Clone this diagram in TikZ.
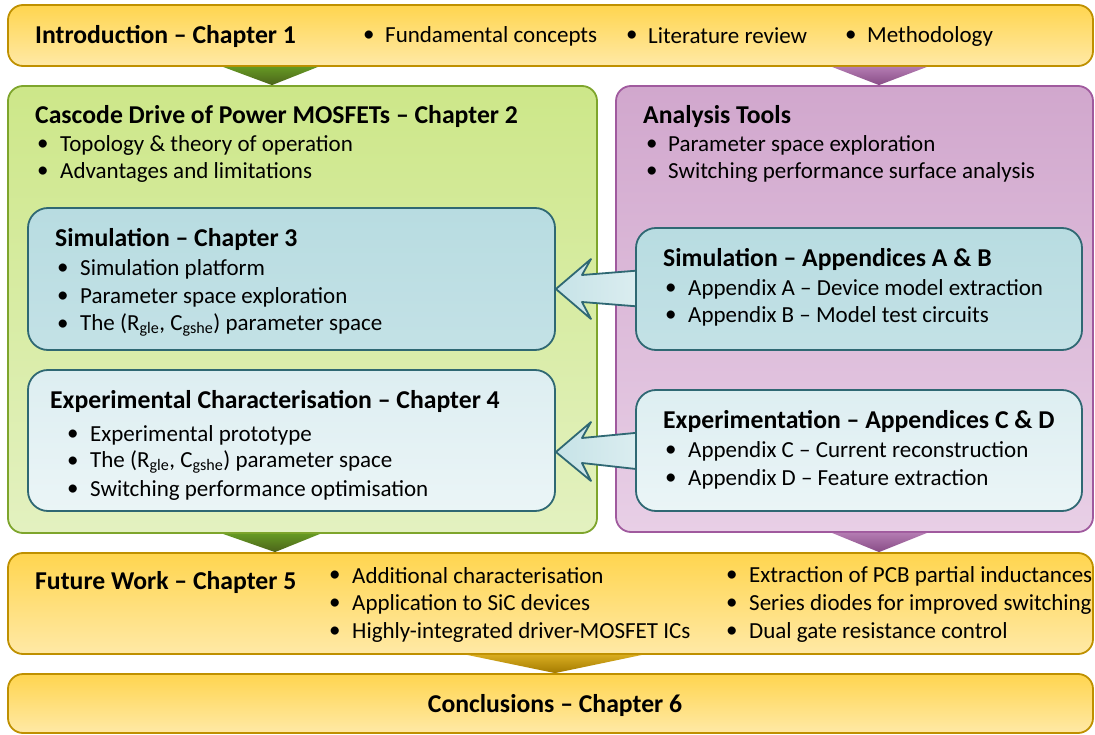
\documentclass[tikz,border=0pt]{standalone}
\usepackage{fontspec}
\setmainfont{Carlito}
\usetikzlibrary{calc}

\definecolor{ytop}{HTML}{FFD54F}
\definecolor{ybot}{HTML}{FFE9A6}
\definecolor{yline}{HTML}{BF9000}
\definecolor{gtop}{HTML}{CDE789}
\definecolor{gbot}{HTML}{E3F1C0}
\definecolor{gline}{HTML}{7EA52C}
\definecolor{ptop}{HTML}{D1A7CD}
\definecolor{pbot}{HTML}{E8CFE6}
\definecolor{pline}{HTML}{A05A9E}
\definecolor{tline}{HTML}{2F6873}
\definecolor{tdark}{HTML}{B8DCE1}
\definecolor{tlight}{HTML}{DDEEF1}

\tikzset{
  box/.style={rounded corners=15pt, line width=1.8pt, inner sep=0pt},
  ybox/.style={box, draw=yline, top color=ytop, bottom color=ybot},
  gbox/.style={box, draw=gline, top color=gtop, bottom color=gbot},
  pbox/.style={box, draw=pline, top color=ptop, bottom color=pbot},
  tbox/.style={box, rounded corners=20pt, draw=tline, top color=tdark, bottom color=tdark!70!tlight},
  lbox/.style={box, rounded corners=20pt, draw=tline, top color=tlight, bottom color=tlight!60!white},
  txt/.style={anchor=west, inner sep=0pt, font=\fontsize{23}{27}\selectfont},
  head/.style={txt, font=\fontsize{25.7}{30}\selectfont\bfseries},
  bul/.style={txt},
  fatarrow/.style={draw=tline, line width=1.8pt, line join=round, left color=tdark!80!white, right color=tlight},
  gtri/.style={top color=green!40!black!20!gline, bottom color=gline!60!black},
  ptri/.style={top color=pline!80!white, bottom color=pline!85!black},
  otri/.style={top color=yline!60!ytop, bottom color=yline!85!black},
}
\newcommand{\bu}{\textbullet}
\newcommand{\sbs}[1]{\textsubscript{#1}}

\begin{document}
\begin{tikzpicture}[x=1pt,y=-1pt]
\useasboundingbox (0,0) rectangle (1095,735);

% outer boxes
\node[ybox, minimum width=1085pt, minimum height=61pt] (intro) at (550.5,35.5) {};
\node[gbox, minimum width=589pt, minimum height=447pt] (cascode) at (302.5,309.5) {};
\node[pbox, minimum width=477pt, minimum height=446pt] (tools) at (854.5,309) {};
\node[ybox, minimum width=1085pt, minimum height=101pt] (future) at (550.5,603.5) {};
\node[ybox, minimum width=1085pt, minimum height=59pt] (concl) at (550.5,703.5) {};

% flow triangles between the stages
\shade[gtri] (223,0 |- intro.south) -- (318,0 |- intro.south) -- (272,0 |- cascode.north) -- cycle;
\shade[ptri] (832,0 |- intro.south) -- (927,0 |- intro.south) -- (879,0 |- tools.north) -- cycle;
\shade[gtri] (223,0 |- cascode.south) -- (320,0 |- cascode.south) -- (275,0 |- future.north) -- cycle;
\shade[ptri] (832,0 |- tools.south) -- (927,0 |- tools.south) -- (879,0 |- future.north) -- cycle;
\shade[otri] (467,0 |- future.south) -- (642,0 |- future.south) -- (555,0 |- concl.north) -- cycle;

% inner boxes
\node[tbox, minimum width=527pt, minimum height=142pt] (sim3) at (291.5,279) {};
\node[lbox, minimum width=527pt, minimum height=141pt] (exp4) at (291.5,440.5) {};

% fat arrows from the appendices to the chapters
\path[fatarrow] (sim3.east |- 0,289) -- (591,259) -- (582,275) -- (645,270)
  -- (645,307) -- (582,302) -- (591,319) -- cycle;
\path[fatarrow] (exp4.east |- 0,452) -- (591,422) -- (582,438) -- (645,432)
  -- (645,470) -- (582,463) -- (591,481) -- cycle;

\node[tbox, minimum width=446pt, minimum height=122pt] (simA) at (859,289) {};
\node[lbox, minimum width=446pt, minimum height=121pt] (expC) at (859,450.5) {};

% introduction
\node[head] (h1) at (35,36) {Introduction – Chapter 1};
\node[bul] (b1a) at (363,36) {\bu};
\node[txt] (t1a) at (385,36) {Fundamental concepts};
\node[bul] (b1b) at (626,36) {\bu};
\node[txt] (t1b) at (648,36) {Literature review};
\node[bul] (b1c) at (845,36) {\bu};
\node[txt] (t1c) at (867,36) {Methodology};

% chapter 2
\node[head] (h2) at (35,117) {Cascode Drive of Power MOSFETs – Chapter 2};
\node[bul] (b2a) at (37,145) {\bu};
\node[txt] (t2a) at (60,145) {Topology \& theory of operation};
\node[bul] (b2b) at (37,172) {\bu};
\node[txt] (t2b) at (60,172) {Advantages and limitations};

% analysis tools
\node[head] (ht) at (643,117) {Analysis Tools};
\node[bul] (bta) at (646,145) {\bu};
\node[txt] (tta) at (668,145) {Parameter space exploration};
\node[bul] (btb) at (646,172) {\bu};
\node[txt] (ttb) at (668,172) {Switching performance surface analysis};

% chapter 3
\node[head] (h3) at (55,239) {Simulation – Chapter 3};
\node[bul] (b3a) at (57,269) {\bu};
\node[txt] (t3a) at (80,269) {Simulation platform};
\node[bul] (b3b) at (57,297) {\bu};
\node[txt] (t3b) at (80,297) {Parameter space exploration};
\node[bul] (b3c) at (57,325) {\bu};
\node[txt] (t3c) at (80,325) {The (R\sbs{gle}, C\sbs{gshe}) parameter space};

% chapter 4
\node[head] (h4) at (50,401) {Experimental Characterisation – Chapter 4};
\node[bul] (b4a) at (67,435) {\bu};
\node[txt] (t4a) at (90,435) {Experimental prototype};
\node[bul] (b4b) at (67,462) {\bu};
\node[txt] (t4b) at (90,462) {The (R\sbs{gle}, C\sbs{gshe}) parameter space};
\node[bul] (b4c) at (67,490) {\bu};
\node[txt] (t4c) at (90,490) {Switching performance optimisation};

% appendices A & B
\node[head] (hA) at (663,259) {Simulation – Appendices A \& B};
\node[bul] (bAa) at (665,289) {\bu};
\node[txt] (tAa) at (688,289) {Appendix A – Device model extraction};
\node[bul] (bAb) at (665,316) {\bu};
\node[txt] (tAb) at (688,316) {Appendix B – Model test circuits};

% appendices C & D
\node[head] (hC) at (663,421) {Experimentation – Appendices C \& D};
\node[bul] (bCa) at (665,451) {\bu};
\node[txt] (tCa) at (688,451) {Appendix C – Current reconstruction};
\node[bul] (bCb) at (665,479) {\bu};
\node[txt] (tCb) at (688,479) {Appendix D – Feature extraction};

% chapter 5
\node[head] (h5) at (35,583) {Future Work – Chapter 5};
\node[bul] (b5a) at (329,576) {\bu};
\node[txt] (t5a) at (352,576) {Additional characterisation};
\node[bul] (b5b) at (329,604) {\bu};
\node[txt] (t5b) at (352,604) {Application to SiC devices};
\node[bul] (b5c) at (329,632) {\bu};
\node[txt] (t5c) at (352,632) {Highly-integrated driver-MOSFET ICs};
\node[bul] (b5d) at (726,576) {\bu};
\node[txt] (t5d) at (749,576) {Extraction of PCB partial inductances};
\node[bul] (b5e) at (726,604) {\bu};
\node[txt] (t5e) at (749,604) {Series diodes for improved switching};
\node[bul] (b5f) at (726,632) {\bu};
\node[txt] (t5f) at (749,632) {Dual gate resistance control};

% chapter 6
\node[head, anchor=center] (h6) at (555,705) {Conclusions – Chapter 6};
\end{tikzpicture}
\end{document}
